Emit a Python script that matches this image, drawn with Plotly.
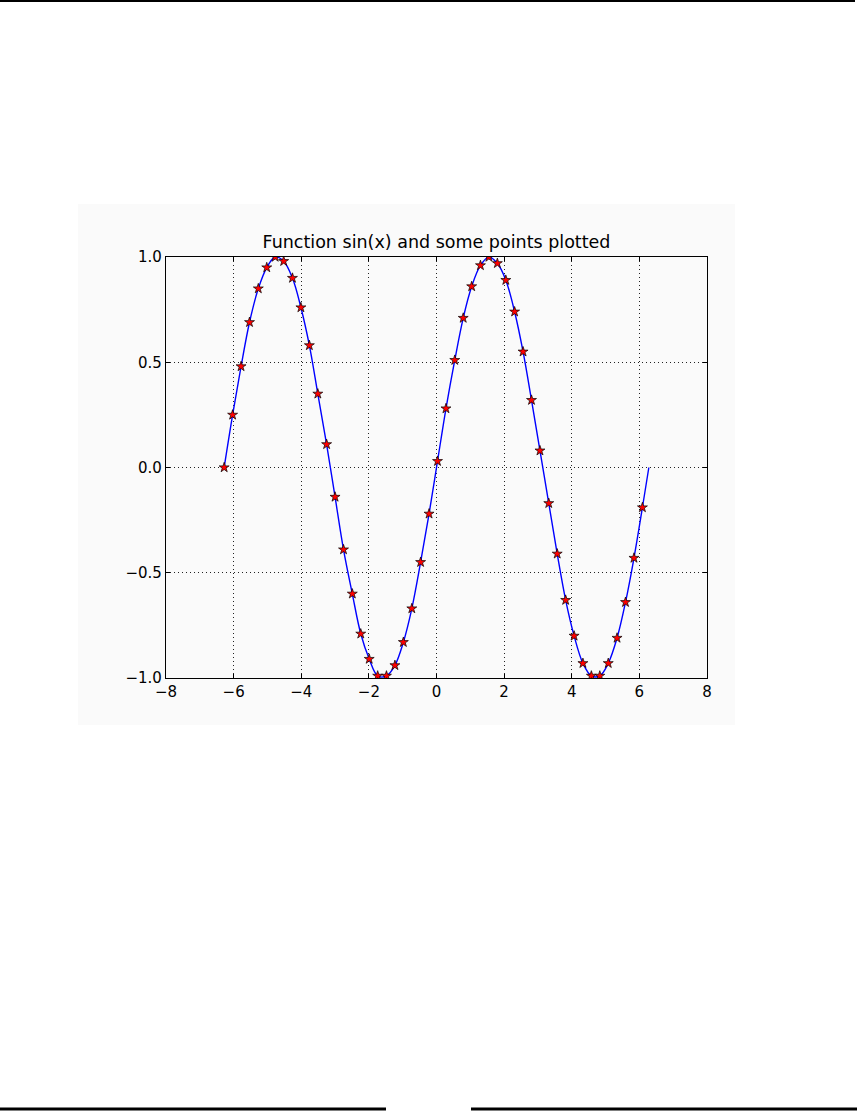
import plotly.graph_objects as go

# Star points
x_pts = [-6.28, -6.03, -5.78, -5.53, -5.27, -5.02, -4.77, -4.52, -4.26, -4.01,
         -3.76, -3.51, -3.25, -3.00, -2.75, -2.49, -2.24, -1.99, -1.74, -1.48,
         -1.23, -0.98, -0.73, -0.47, -0.22, 0.03, 0.28, 0.54, 0.79, 1.04,
         1.30, 1.55, 1.80, 2.05, 2.31, 2.56, 2.81, 3.06, 3.32, 3.57,
         3.82, 4.07, 4.33, 4.58, 4.83, 5.08, 5.34, 5.59, 5.84, 6.09]
y_pts = [0.00, 0.25, 0.48, 0.69, 0.85, 0.95, 1.00, 0.98, 0.90, 0.76,
         0.58, 0.35, 0.11, -0.14, -0.39, -0.60, -0.79, -0.91, -0.99, -0.99,
         -0.94, -0.83, -0.67, -0.45, -0.22, 0.03, 0.28, 0.51, 0.71, 0.86,
         0.96, 1.00, 0.97, 0.89, 0.74, 0.55, 0.32, 0.08, -0.17, -0.41,
         -0.63, -0.80, -0.93, -0.99, -0.99, -0.93, -0.81, -0.64, -0.43, -0.19]

# Curve end point (line runs on to x = 2*pi)
x_end = [6.28]
y_end = [0.0]

x_ticks = [-8, -6, -4, -2, 0, 2, 4, 6, 8]
x_tick_text = ["\u22128", "\u22126", "\u22124", "\u22122", "0", "2", "4", "6", "8"]
y_ticks = [-1.0, -0.5, 0.0, 0.5, 1.0]
y_tick_text = ["\u22121.0", "\u22120.5", "0.0", "0.5", "1.0"]

title_text = "Function sin(x) and some points plotted"

W, H = 857, 1112
L, R, T, B = 166, 707, 257, 678
pw, ph = R - L, B - T

def px(x):
    return (x - L) / pw

def py(y):
    return (B - y) / ph

fig = go.Figure()
fig.add_trace(go.Scatter(
    x=x_pts + x_end, y=y_pts + y_end, mode="lines",
    line=dict(color="#0000ff", width=1.4, shape="spline", smoothing=1.0),
    hoverinfo="skip", showlegend=False))
fig.add_trace(go.Scatter(
    x=x_pts, y=y_pts, mode="markers",
    marker=dict(symbol="star", size=7.5, color="#ff0000",
                line=dict(color="#000000", width=0.7)),
    showlegend=False))

font = dict(family="DejaVu Sans", size=15, color="#000000")

axis_common = dict(
    showline=True, linecolor="#000000", linewidth=1.2, mirror="ticks",
    ticks="inside", ticklen=4, tickwidth=1, tickcolor="#000000",
    showgrid=True, gridcolor="#222222", gridwidth=0.8, griddash="1px,3px",
    zeroline=False, tickfont=font,
)

fig.update_layout(
    width=W, height=H,
    margin=dict(l=L, r=W - R, t=T, b=H - B, pad=0),
    paper_bgcolor="#ffffff", plot_bgcolor="#ffffff",
    xaxis=dict(range=[-8, 8], tickvals=x_ticks, ticktext=x_tick_text, **axis_common),
    yaxis=dict(range=[-1, 1], tickvals=y_ticks, ticktext=y_tick_text, **axis_common),
    title=dict(text=title_text, x=(L + R) / 2 / W, xanchor="center",
               y=1 - 242 / H, yanchor="middle",
               font=dict(family="DejaVu Sans", size=17.5, color="#000000")),
    shapes=[
        dict(type="rect", xref="paper", yref="paper", layer="below",
             x0=px(78), x1=px(735), y0=py(725), y1=py(204),
             fillcolor="#fafafa", line=dict(width=0)),
        dict(type="line", xref="paper", yref="paper",
             x0=px(0), x1=px(855), y0=py(1), y1=py(1),
             line=dict(color="#000000", width=2)),
        dict(type="line", xref="paper", yref="paper",
             x0=px(0), x1=px(386), y0=py(1109), y1=py(1109),
             line=dict(color="#000000", width=3)),
        dict(type="line", xref="paper", yref="paper",
             x0=px(471), x1=px(857), y0=py(1109), y1=py(1109),
             line=dict(color="#000000", width=3)),
    ],
)

fig.write_html(
    "out.html",
    config={"displayModeBar": False},
    post_script="document.body.style.margin='0';document.body.style.overflow='hidden';",
)
